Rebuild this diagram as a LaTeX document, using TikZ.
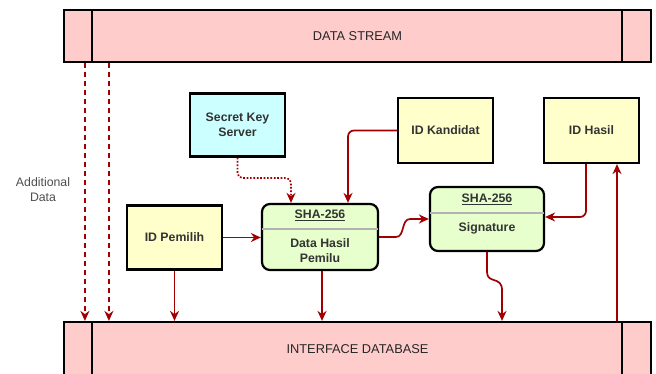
\documentclass[tikz,border=0pt]{standalone}
\usepackage{fontspec}
\setmainfont{Liberation Sans}
\usetikzlibrary{arrows.meta}
\definecolor{barfill}{HTML}{FFCCCC}
\definecolor{yelfill}{HTML}{FFFFCC}
\definecolor{grnfill}{HTML}{E6FFCC}
\definecolor{cyanfill}{HTML}{CCFFFF}
\definecolor{arrred}{HTML}{A20000}
\definecolor{txtgrey}{HTML}{4D4D4D}
\tikzset{
  bar/.style={draw=black, line width=2.2pt, fill=barfill, minimum width=587pt, minimum height=52pt, inner sep=0pt, font=\fontsize{12.8}{14}\selectfont, text=black!85},
  bxbase/.style={draw=black, line width=2.2pt, inner sep=0pt, align=center, font=\bfseries\fontsize{12.3}{15}\selectfont, text=black!80},
  ybox/.style={bxbase, fill=yelfill, minimum width=95pt, minimum height=64pt},
  cbox/.style={bxbase, fill=cyanfill, minimum width=95pt, minimum height=63pt},
  gbox/.style={bxbase, fill=grnfill, rounded corners=8pt},
  gtext/.style={align=center, font=\bfseries\fontsize{12.3}{15}\selectfont, text=black!80, inner sep=0pt},
  sepline/.style={draw=black!30, line width=1.2pt},
  arr/.style={draw=arrred, line width=1.7pt, -{Stealth[length=10pt,width=9pt]}},
  darr/.style={arr, dash pattern=on 5pt off 4pt},
  dotarr/.style={arr, dash pattern=on 1.7pt off 1.7pt},
  lbl/.style={align=center, font=\fontsize{12.3}{15}\selectfont, text=txtgrey}
}
\begin{document}
\begin{tikzpicture}[x=1pt,y=-1pt]
\useasboundingbox (0,0) rectangle (656,374);
% bars
\node[bar] (ds) at (357.5,36) {DATA STREAM};
\draw[line width=2.2pt] (92,10) -- (92,62) (622,10) -- (622,62);
\node[bar, minimum height=56pt] (db) at (357.5,350) {\raisebox{2pt}{INTERFACE DATABASE}};
\draw[line width=2.2pt] (92,322) -- (92,378) (622,322) -- (622,378);
% boxes
\node[cbox] (sk) at (237.5,125) {Secret Key\\Server};
\node[ybox] (ip) at (174.5,237.5) {ID Pemilih};
\node[ybox, minimum height=65pt] (ik) at (445.5,130.5) {ID Kandidat};
\node[ybox, minimum height=65pt] (ih) at (591.5,130.5) {ID Hasil};
\node[gbox, minimum width=116pt, minimum height=66pt] (s1) at (320,237) {};
\node[gbox, minimum width=114pt, minimum height=64pt] (s2) at (487,219) {};
\draw[sepline] ([xshift=1.2pt]s1.west |- 0,229) -- ([xshift=-1.2pt]s1.east |- 0,229);
\draw[sepline] ([xshift=1.2pt]s2.west |- 0,213) -- ([xshift=-1.2pt]s2.east |- 0,213);
\node[gtext] (s1t) at (320,215) {\underline{SHA-256}};
\node[gtext] (s1b) at (320,251) {Data Hasil\\Pemilu};
\node[gtext] (s2t) at (487,199) {\underline{SHA-256}};
\node[gtext] (s2b) at (487,228) {Signature};
\node[lbl] (ad) at (43,190) {Additional\\Data};
% dashed arrows from data stream
\draw[darr] ([xshift=22pt]ds.south west) -- ([xshift=22pt]ds.south west |- db.north);
\draw[darr] ([xshift=46pt]ds.south west) -- ([xshift=46pt]ds.south west |- db.north);
% connectors
\draw[dotarr, rounded corners=5pt] (sk.south) -- (237.5,178) -- (291,178) -- (291,0 |- s1.north);
\draw[arr] (ip.east) -- (s1.west |- ip.east);
\draw[arr, rounded corners=6pt] (ik.west) -- (348,130.5) -- (348,0 |- s1.north);
\draw[arr] (s1.east |- 0,237) -- (396,237) .. controls (405,237) and (401,219) .. (410,219) -- (s2.west |- 0,219);
\draw[arr, rounded corners=6pt] (ih.south -| 586,0) -- (586,217) -- (s2.east |- 0,217);
\draw[arr] (s2.south) -- (487,272) .. controls (487,284) and (502,276) .. (502,290) -- (502,0 |- db.north);
\draw[arr] (ip.south) -- (ip.south |- db.north);
\draw[arr] (s1.south -| 322,0) -- (322,0 |- db.north);
\draw[arr] (617,0 |- db.north) -- (617,0 |- ih.south);
\end{tikzpicture}
\end{document}
